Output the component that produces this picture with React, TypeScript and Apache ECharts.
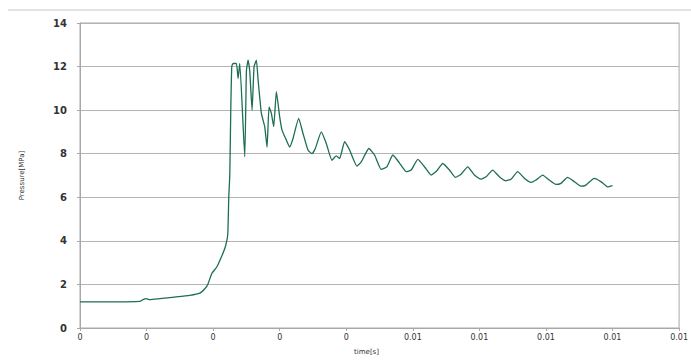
import React, { useEffect, useRef } from "react";
import * as echarts from "echarts";

// time in milliseconds (converted to seconds for the axis)
const timeMs: number[] = [
  0, 0.45, 0.9, 0.945, 0.99, 1.05, 1.2, 1.42, 1.65, 1.8, 1.875, 1.92, 1.98, 2.055, 2.13, 2.19, 2.22,
  2.235, 2.25, 2.265, 2.28, 2.3, 2.35, 2.375, 2.4, 2.475, 2.5, 2.525, 2.55, 2.585, 2.615, 2.65,
  2.675, 2.725, 2.775, 2.81, 2.84, 2.875, 2.91, 2.95, 3.0, 3.035, 3.1, 3.15, 3.2, 3.285, 3.35,
  3.425, 3.485, 3.535, 3.625, 3.7, 3.785, 3.85, 3.9, 3.975, 4.05, 4.16, 4.225, 4.34, 4.425, 4.525,
  4.61, 4.7, 4.8, 4.9, 4.975, 5.075, 5.175, 5.275, 5.35, 5.45, 5.55, 5.64, 5.725, 5.825, 5.925,
  6.025, 6.1, 6.2, 6.3, 6.39, 6.475, 6.575, 6.675, 6.775, 6.85, 6.95, 7.05, 7.15, 7.225, 7.325,
  7.425, 7.525, 7.6, 7.725, 7.825, 7.925, 8.0,
];
const pressure: number[] = [
  1.2, 1.2, 1.22, 1.3, 1.35, 1.3, 1.35, 1.42, 1.5, 1.6, 1.8, 2.0, 2.5, 2.8, 3.3, 3.8, 4.3,
  6.0, 7.0, 10.0, 12.0, 12.14, 12.14, 11.45, 12.14, 7.86, 11.8, 12.3, 11.8, 10.0, 12.0, 12.3,
  11.4, 9.85, 9.24, 8.3, 10.15, 9.85, 9.24, 10.85, 9.69, 9.08, 8.62, 8.3, 8.7, 9.62, 8.93,
  8.17, 8.0, 8.24, 9.0, 8.47, 7.7, 7.9, 7.78, 8.55, 8.17, 7.43, 7.63, 8.24, 7.94, 7.28,
  7.4, 7.94, 7.57, 7.18, 7.25, 7.74, 7.4, 7.02, 7.18, 7.55, 7.25, 6.91, 7.06, 7.4, 7.02,
  6.83, 6.94, 7.25, 6.94, 6.76, 6.83, 7.18, 6.87, 6.68, 6.79, 7.02, 6.79, 6.59, 6.64, 6.91,
  6.72, 6.51, 6.56, 6.87, 6.72, 6.48, 6.54,
];
const xTickLabels: string[] = ["0", "0", "0", "0", "0", "0.01", "0.01", "0.01", "0.01", "0.01"];
const yTickLabels: string[] = ["0", "2", "4", "6", "8", "10", "12", "14"];

export default function App() {
  const ref = useRef<HTMLDivElement>(null);
  useEffect(() => {
    if (!ref.current) return;
    const chart = echarts.init(ref.current, undefined, { renderer: "svg" });
    const data = timeMs.map((t, i) => [t / 1000, pressure[i]]);
    chart.setOption({
      animation: false,
      backgroundColor: "#ffffff",
      textStyle: { fontFamily: "DejaVu Sans" },
      grid: {
        left: 80,
        right: 8,
        top: 23,
        bottom: 34,
        show: true,
        borderColor: "#a8a8a8",
        borderWidth: 1,
      },
      graphic: [
        {
          type: "line",
          shape: { x1: 8, y1: 10, x2: 691, y2: 10 },
          style: { stroke: "#e2e2e2", lineWidth: 2 },
        },
      ],
      xAxis: {
        type: "value",
        min: 0,
        max: 0.009,
        interval: 0.001,
        name: "time[s]",
        nameLocation: "middle",
        nameGap: 20,
        nameTextStyle: { fontSize: 7, color: "#333", padding: [0, 26, 0, 0] },
        splitLine: { show: false },
        axisLine: { show: true, lineStyle: { color: "#a8a8a8" } },
        axisTick: { show: true, length: 3, lineStyle: { color: "#a8a8a8" } },
        axisLabel: {
          fontSize: 8,
          color: "#333",
          margin: 5,
          formatter: (v: number) => xTickLabels[Math.round(v / 0.001)] ?? "",
        },
      },
      yAxis: {
        type: "value",
        min: 0,
        max: 14,
        interval: 2,
        name: "Pressure[MPa]",
        nameLocation: "middle",
        nameGap: 55,
        nameRotate: 90,
        nameTextStyle: { fontSize: 7, color: "#333" },
        splitLine: { show: true, lineStyle: { color: "#b4b4b4", width: 1 } },
        axisLine: { show: true, lineStyle: { color: "#a8a8a8" } },
        axisTick: { show: true, length: 3, lineStyle: { color: "#a8a8a8" } },
        axisLabel: {
          fontSize: 10,
          fontWeight: "bold",
          color: "#333",
          margin: 13,
          formatter: (v: number) => yTickLabels[Math.round(v / 2)] ?? "",
        },
      },
      series: [
        {
          type: "line",
          data,
          showSymbol: false,
          smooth: 0.15,
          lineStyle: { color: "#1d6e52", width: 1.3 },
          itemStyle: { color: "#1d6e52" },
        },
      ],
    });
    return () => chart.dispose();
  }, []);
  return (
    <div
      ref={ref}
      style={{ position: "fixed", left: 0, top: 0, width: 691, height: 362 }}
    />
  );
}
